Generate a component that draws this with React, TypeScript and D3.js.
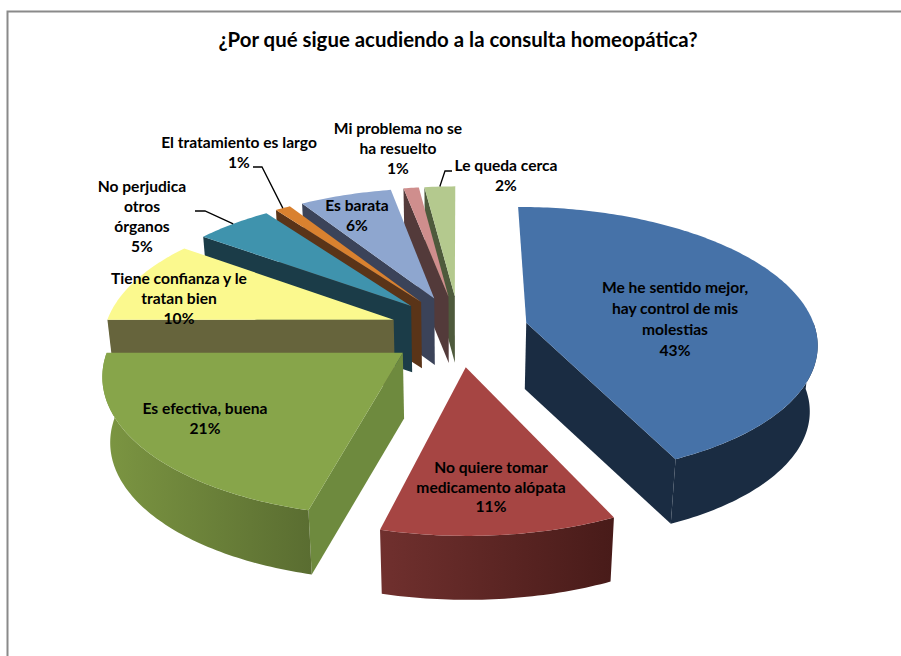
import React from "react";
import * as d3 from "d3";

const titleText = "¿Por qué sigue acudiendo a la consulta homeopática?";
const categories = [
  "Me he sentido mejor, hay control de mis molestias",
  "No quiere tomar medicamento alópata",
  "Es efectiva, buena",
  "Tiene confianza y le tratan bien",
  "No perjudica otros órganos",
  "El tratamiento es largo",
  "Es barata",
  "Mi problema no se ha resuelto",
  "Le queda cerca",
];
const values = [43, 11, 21, 10, 5, 1, 6, 1, 2];
const labelLines = [
  ["Me he sentido mejor,", "hay control de mis", "molestias", "43%"],
  ["No quiere tomar", "medicamento alópata", "11%"],
  ["Es efectiva, buena", "21%"],
  ["Tiene confianza y le", "tratan bien", "10%"],
  ["No perjudica", "otros", "órganos", "5%"],
  ["El tratamiento es largo", "1%"],
  ["Es barata", "6%"],
  ["Mi problema no se", "ha resuelto", "1%"],
  ["Le queda cerca", "2%"],
];
const topColors = ["#4672A8", "#A64543", "#87A54A", "#FBF98E", "#3F93AD", "#D9812F", "#8EA6CF", "#CF8E8D", "#B4C98E"];
const faceColors = ["#1A2C42", "#5A2624", "#6E8A3E", "#66643C", "#1B3C48", "#5A3418", "#3B4359", "#533A3A", "#4E5A3C"];
const wallStart = ["#1A2C42", "#70302E", "#7C9642", "#66643C", "#1B3C48", "#5A3418", "#3B4359", "#533A3A", "#4E5A3C"];
const wallEnd = ["#1A2C42", "#481B19", "#5A6D31", "#66643C", "#1B3C48", "#5A3418", "#3B4359", "#533A3A", "#4E5A3C"];

// painter's order, far to near
const drawOrder = [8, 7, 6, 5, 4, 3, 2, 1, 0];

// label layout: centre x, first-line centre y, line step
const labelCx = [675, 491, 205, 179, 142, 239, 357, 398, 506];
const labelCy = [288, 468, 409, 279, 187, 143, 206, 129, 166];
const labelStep = [21, 19.5, 20, 20, 20, 20, 20, 20, 20];
// leader: slice index, start, elbow
const leaders = [
  { i: 5, from: [253, 167], elbow: [262, 167] },
  { i: 4, from: [195, 211], elbow: [205, 211] },
  { i: 8, from: [452, 171], elbow: [445, 171] },
];

const W = 901, H = 656;
const x0 = 459, y0 = 330.5, halfW = 289.5, halfH = 134, depth = 66;
const persp = 7.2, zShrinkX = 0.978, zShrinkY = 0.99, explodeX = 0.24, explodeY = 0.265;
const sx = d3.scaleLinear().domain([-1, 1]).range([x0 - halfW, x0 + halfW]);
const sy = d3.scaleLinear().domain([-1, 1]).range([y0 - halfH, y0 + halfH]);

const project = (x: number, y: number, low: boolean): [number, number] => {
  const f = persp / (persp - y);
  return [sx(x * f * (low ? zShrinkX : 1)), sy(y * f * (low ? zShrinkY : 1)) + (low ? depth : 0)];
};

const arcs = d3.pie<number>().sort(null).startAngle(0).endAngle(2 * Math.PI)(values);
const line = d3.line();

const slices = arcs.map((a, i) => {
  const bis = (a.startAngle + a.endAngle) / 2;
  const ax = Math.sin(bis) * explodeX;
  const ay = -Math.cos(bis) * explodeY;
  const at = (t: number, low: boolean) => project(ax + Math.sin(t), ay - Math.cos(t), low);
  const sweep = (t0: number, t1: number) => {
    const n = Math.max(6, Math.ceil((t1 - t0) * 60));
    return d3.range(n + 1).map((k) => t0 + ((t1 - t0) * k) / n);
  };
  const apT = project(ax, ay, false);
  const apB = project(ax, ay, true);
  const face = (t: number) => line([apT, at(t, false), at(t, true), apB])! + "Z";
  // only the parts of the solid that turn towards the viewer are drawn
  const w0 = Math.max(a.startAngle, Math.PI / 2);
  const w1 = Math.min(a.endAngle, (3 * Math.PI) / 2);
  const wallTs = w1 > w0 ? sweep(w0, w1) : [];
  const faces: string[] = [];
  if (Math.sin(a.endAngle) > 0.001) faces.push(face(a.endAngle));
  if (Math.sin(a.startAngle) < -0.001) faces.push(face(a.startAngle));
  return {
    i,
    top: line([apT, ...sweep(a.startAngle, a.endAngle).map((t) => at(t, false))])! + "Z",
    wall: wallTs.length
      ? line([...wallTs.map((t) => at(t, false)), ...wallTs.slice().reverse().map((t) => at(t, true))])! + "Z"
      : "",
    faces,
    mid: at(bis, false),
  };
});

export default function App() {
  return (
    <svg width={W} height={H} style={{ position: "fixed", left: 0, top: 0, display: "block" }}
      fontFamily="Lato, 'Noto Sans', sans-serif">
      <defs>
        {slices.map((s) => (
          <linearGradient key={s.i} id={`wall${s.i}`} gradientUnits="objectBoundingBox" x1="0" x2="1" y1="0" y2="0">
            <stop offset="0" stopColor={wallStart[s.i]} />
            <stop offset="1" stopColor={wallEnd[s.i]} />
          </linearGradient>
        ))}
      </defs>
      <rect width={W} height={H} fill="#fff" />
      <path d={`M${W},11.5H7.5V${H}`} fill="none" stroke="#8a8a8a" strokeWidth={2} />
      <text x={458} y={47} textAnchor="middle" fontSize={20.4} fontWeight={700} fill="#000">{titleText}</text>
      {drawOrder.map((k) => {
        const s = slices[k];
        return (
          <g key={k}>
            <title>{categories[k]}</title>
            {s.faces.map((d, j) => <path key={j} d={d} fill={faceColors[k]} />)}
            {s.wall && <path d={s.wall} fill={`url(#wall${k})`} />}
            <path d={s.top} fill={topColors[k]} />
          </g>
        );
      })}
      {leaders.map((l) => (
        <polyline key={l.i} fill="none" stroke="#000" strokeWidth={1.3}
          points={[l.from, l.elbow, slices[l.i].mid].map((p) => p.join(",")).join(" ")} />
      ))}
      {labelLines.map((lines, i) => (
        <text key={i} textAnchor="middle" fontSize={15.6} fontWeight={700} fill="#000">
          {lines.map((t, j) => (
            <tspan key={j} x={labelCx[i]} y={labelCy[i] + j * labelStep[i]} dy="0.35em">{t}</tspan>
          ))}
        </text>
      ))}
    </svg>
  );
}
